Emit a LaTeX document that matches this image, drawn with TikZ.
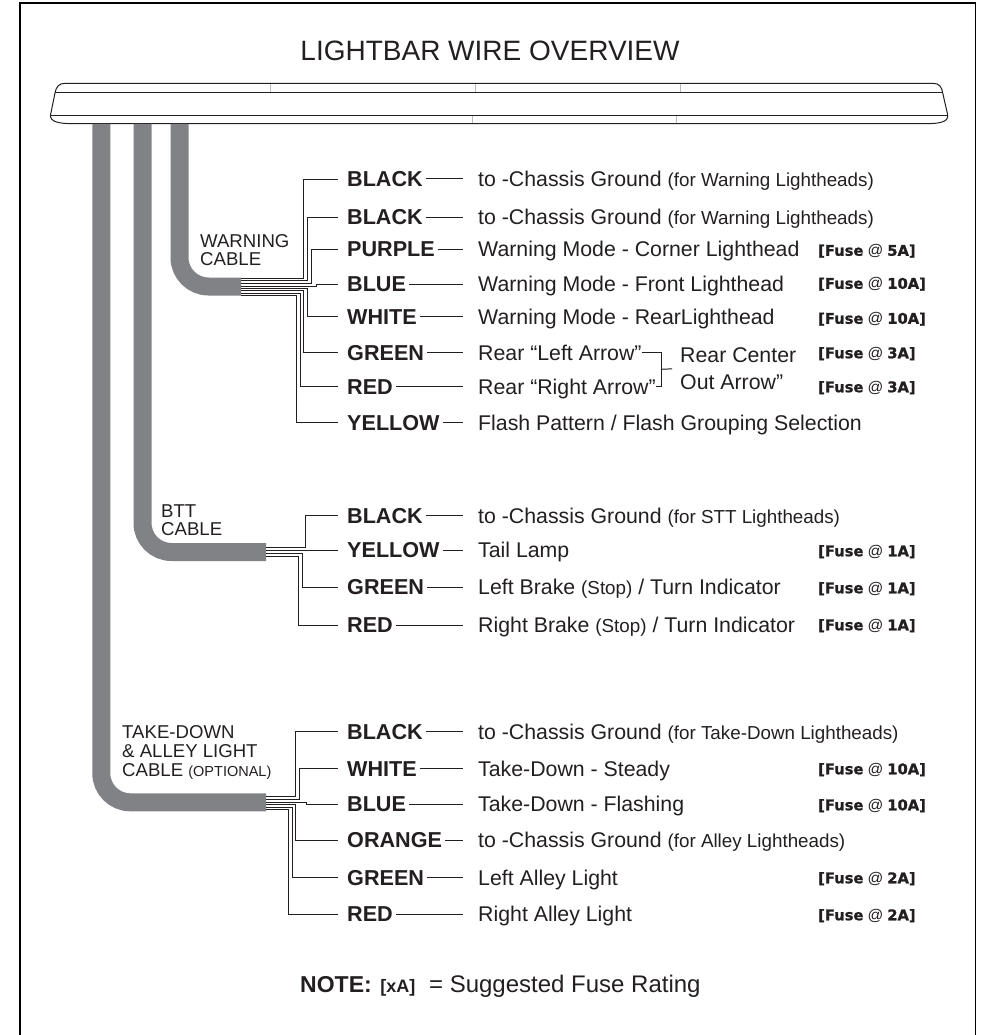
\documentclass[tikz,border=0pt]{standalone}
\usepackage{fontspec}
\setmainfont{Liberation Sans}
\newfontfamily\fusefont{DejaVu Sans}[BoldFeatures={FakeBold=1.2}]
\usetikzlibrary{calc}

\definecolor{ink}{HTML}{231F20}
\definecolor{sheath}{HTML}{808285}

\newcommand{\paren}[1]{{\fontsize{18.8}{18}\selectfont #1}}
\newcommand{\fuse}[1]{{\fusefont\bfseries [Fuse} {\fontsize{15.5}{15}\selectfont @} {\fusefont\bfseries #1]}}

\tikzset{
	outline/.style={draw=ink, line width=1pt},
	seam/.style={draw=ink!30, line width=0.5pt},
	cable/.style={draw=sheath},
	wire/.style={draw=ink, line width=0.9pt, shorten >=6pt},
	link/.style={draw=ink, line width=1pt},
	color name/.style={anchor=west, inner ysep=0pt, inner xsep=3pt, text=ink, text height=15pt, text depth=0pt, font=\fontsize{21.6}{21}\selectfont\bfseries},
	job/.style={anchor=west, inner sep=0pt, text=ink, text height=15pt, text depth=0pt, font=\fontsize{21.3}{21}\selectfont},
	rating/.style={anchor=west, inner sep=0pt, text=ink, text height=10.5pt, text depth=0pt, font=\fontsize{14.7}{15}\selectfont},
	cable name/.style={anchor=north west, align=left, inner sep=0pt, text=ink, font=\fontsize{18.6}{17.8}\selectfont}
}

\begin{document}
\begin{tikzpicture}[x=1pt,y=-1pt]
	\pgfmathsetmacro{\cablew}{18}		%width of cable
	\pgfmathsetmacro{\bend}{29}			%bend radius of cable
	\pgfmathsetmacro{\namex}{344}		%left of color names
	\pgfmathsetmacro{\jobx}{478}		%left of wire duties
	\pgfmathsetmacro{\fusex}{818}		%left of fuse ratings

	\useasboundingbox (0,0) rectangle (980,1035);

	%sheet
	\draw[line width=1.4pt, draw=black] (20,1035) |- (975.5,3) -- (975.5,1035);
	\node[inner sep=0pt, text=ink, font=\fontsize{28}{28}\selectfont] (title) at (490,51) {LIGHTBAR WIRE OVERVIEW};

	%lightbar
	\draw[seam] (270,83.3) -- (270,93);
	\draw[seam] (475,83.3) -- (475,93);
	\draw[seam] (680,83.3) -- (680,93);
	\draw[seam] (472.7,116) -- (472.7,123.7);
	\draw[seam] (676.7,116) -- (676.7,123.7);
	\draw[outline] (65,83.3) -- (933,83.3) .. controls (939,83.3) and (942,87) .. (942.7,93) -- (947.7,115) .. controls (948.5,122) and (940,123.7) .. (925,123.7) -- (74,123.7) .. controls (59,123.7) and (50,122) .. (50.5,115) -- (55,93) .. controls (56,87) and (59,83.3) .. (65,83.3) -- cycle;
	\draw[outline] (55,93) -- (942.7,93);
	\draw[outline] (50.5,116) -- (947.7,116);

	%cables
	\coordinate (wend) at (241,286.5);
	\coordinate (bend) at (266,552);
	\coordinate (tend) at (266,802.3);
	\draw[cable, line width=\cablew, rounded corners=\bend pt] (179.5,124) |- (wend);
	\draw[cable, line width=\cablew, rounded corners=\bend pt] (142.5,124) |- (bend);
	\draw[cable, line width=\cablew, rounded corners=\bend pt] (101.3,124) |- (tend);

	\node[cable name] (wcable) at (200,234.5) {WARNING\\CABLE};
	\node[cable name] (bcable) at (161,504.5) {BTT\\CABLE};
	\node[cable name, font=\fontsize{18.6}{18.7}\selectfont] (tcable) at (122,725.5) {TAKE-DOWN\\\& ALLEY LIGHT\\CABLE {\fontsize{14.5}{14.5}\selectfont (OPTIONAL)}};

	%warning cable
	\node[color name] (wblk) at (\namex,179) {BLACK};
	\node[color name] (wblq) at (\namex,217.3) {BLACK};
	\node[color name] (wpur) at (\namex,249.3) {PURPLE};
	\node[color name] (wblu) at (\namex,284) {BLUE};
	\node[color name] (wwht) at (\namex,316.7) {WHITE};
	\node[color name] (wgrn) at (\namex,352.7) {GREEN};
	\node[color name] (wred) at (\namex,386.7) {RED};
	\node[color name] (wyel) at (\namex,422.7) {YELLOW};

	\node[job] (wblkj) at (\jobx,179) {to -Chassis Ground \paren{(for Warning Lightheads)}};
	\node[job] (wblqj) at (\jobx,217.3) {to -Chassis Ground \paren{(for Warning Lightheads)}};
	\node[job] (wpurj) at (\jobx,249.3) {Warning Mode - Corner Lighthead};
	\node[job] (wbluj) at (\jobx,284) {Warning Mode - Front Lighthead};
	\node[job] (wwhtj) at (\jobx,316.7) {Warning Mode - RearLighthead};
	\node[job] (wgrnj) at (\jobx,352.7) {Rear “Left Arrow”};
	\node[job] (wredj) at (\jobx,386.7) {Rear “Right Arrow”};
	\node[job] (wyelj) at (\jobx,422.7) {Flash Pattern / Flash Grouping Selection};
	\node[anchor=west, inner sep=0pt, text=ink, align=left, font=\fontsize{21.3}{27}\selectfont] (wcnt) at (680,368.5) {Rear Center\\Out Arrow”};

	\node[rating] (wpurf) at (\fusex,250.5) {\fuse{5A}};
	\node[rating] (wbluf) at (\fusex,283.5) {\fuse{10A}};
	\node[rating] (wwhtf) at (\fusex,318.5) {\fuse{10A}};
	\node[rating] (wgrnf) at (\fusex,353) {\fuse{3A}};
	\node[rating] (wredf) at (\fusex,387) {\fuse{3A}};

	\draw[wire] ($(wend)+(0,-8.2)$) -| (303.3,179) -- (wblk.west);
	\draw[wire] ($(wend)+(0,-5.8)$) -| (307.3,217.3) -- (wblq.west);
	\draw[wire] ($(wend)+(0,-3.5)$) -| (311.3,249.3) -- (wpur.west);
	\draw[wire] ($(wend)+(0,-0.5)$) -| (316.7,284) -- (wblu.west);
	\draw[wire] ($(wend)+(0,1.8)$) -| (307.3,316.7) -- (wwht.west);
	\draw[wire] ($(wend)+(0,4)$) -| (303.3,352.7) -- (wgrn.west);
	\draw[wire] ($(wend)+(0,6.5)$) -| (300.3,386.7) -- (wred.west);
	\draw[wire] ($(wend)+(0,8.5)$) -| (296.7,422.7) -- (wyel.west);

	\draw[link, shorten >=15pt] (wblk.east) -- (wblkj.west);
	\draw[link, shorten >=15pt] (wblq.east) -- (wblqj.west);
	\draw[link, shorten >=15pt] (wpur.east) -- (wpurj.west);
	\draw[link, shorten >=15pt] (wblu.east) -- (wbluj.west);
	\draw[link, shorten >=15pt] (wwht.east) -- (wwhtj.west);
	\draw[link, shorten >=15pt] (wgrn.east) -- (wgrnj.west);
	\draw[link, shorten >=15pt] (wred.east) -- (wredj.west);
	\draw[link, shorten >=15pt] (wyel.east) -- (wyelj.west);

	%rear center bracket
	\coordinate (brk) at (661,369.3);
	\draw[link] (wgrnj.east) -| (brk) |- (wredj.east);
	\draw[link, shorten >=8pt] (brk) -- (wcnt.west);

	%btt cable
	\node[color name] (bblk) at (\namex,515.7) {BLACK};
	\node[color name] (byel) at (\namex,550.3) {YELLOW};
	\node[color name] (bgrn) at (\namex,587.3) {GREEN};
	\node[color name] (bred) at (\namex,625) {RED};

	\node[job] (bblkj) at (\jobx,515.7) {to -Chassis Ground \paren{(for STT Lightheads)}};
	\node[job] (byelj) at (\jobx,550.3) {Tail Lamp};
	\node[job] (bgrnj) at (\jobx,587.3) {Left Brake \paren{(Stop)} / Turn Indicator};
	\node[job] (bredj) at (\jobx,625) {Right Brake \paren{(Stop)} / Turn Indicator};

	\node[rating] (byelf) at (\fusex,551) {\fuse{1A}};
	\node[rating] (bgrnf) at (\fusex,588) {\fuse{1A}};
	\node[rating] (bredf) at (\fusex,625) {\fuse{1A}};

	\draw[wire] ($(bend)+(0,-4.7)$) -| (305.7,515.7) -- (bblk.west);
	\draw[wire] ($(bend)+(0,-1.7)$) -- (byel.west);
	\draw[wire] ($(bend)+(0,1)$) -| (302.3,587.3) -- (bgrn.west);
	\draw[wire] ($(bend)+(0,4)$) -| (298.7,625) -- (bred.west);

	\draw[link, shorten >=15pt] (bblk.east) -- (bblkj.west);
	\draw[link, shorten >=15pt] (byel.east) -- (byelj.west);
	\draw[link, shorten >=15pt] (bgrn.east) -- (bgrnj.west);
	\draw[link, shorten >=15pt] (bred.east) -- (bredj.west);

	%take-down cable
	\node[color name] (tblk) at (\namex,731.7) {BLACK};
	\node[color name] (twht) at (\namex,768.7) {WHITE};
	\node[color name] (tblu) at (\namex,804.3) {BLUE};
	\node[color name] (torg) at (\namex,840) {ORANGE};
	\node[color name] (tgrn) at (\namex,877.7) {GREEN};
	\node[color name] (tred) at (\namex,914) {RED};

	\node[job] (tblkj) at (\jobx,731.7) {to -Chassis Ground \paren{(for Take-Down Lightheads)}};
	\node[job] (twhtj) at (\jobx,768.7) {Take-Down - Steady};
	\node[job] (tbluj) at (\jobx,804.3) {Take-Down - Flashing};
	\node[job] (torgj) at (\jobx,840) {to -Chassis Ground \paren{(for Alley Lightheads)}};
	\node[job] (tgrnj) at (\jobx,877.7) {Left Alley Light};
	\node[job] (tredj) at (\jobx,914) {Right Alley Light};

	\node[rating] (twhtf) at (\fusex,769) {\fuse{10A}};
	\node[rating] (tbluf) at (\fusex,805) {\fuse{10A}};
	\node[rating] (tgrnf) at (\fusex,878) {\fuse{2A}};
	\node[rating] (tredf) at (\fusex,915) {\fuse{2A}};

	\draw[wire] ($(tend)+(0,-5.6)$) -| (295.3,731.7) -- (tblk.west);
	\draw[wire] ($(tend)+(0,-3)$) -| (299,768.7) -- (twht.west);
	\draw[wire] ($(tend)+(0,-0.3)$) -| (306,804.3) -- (tblu.west);
	\draw[wire] ($(tend)+(0,2.4)$) -| (295.3,840) -- (torg.west);
	\draw[wire] ($(tend)+(0,5)$) -| (292.3,877.7) -- (tgrn.west);
	\draw[wire] ($(tend)+(0,7)$) -| (288,914) -- (tred.west);

	\draw[link, shorten >=15pt] (tblk.east) -- (tblkj.west);
	\draw[link, shorten >=15pt] (twht.east) -- (twhtj.west);
	\draw[link, shorten >=15pt] (tblu.east) -- (tbluj.west);
	\draw[link, shorten >=15pt] (torg.east) -- (torgj.west);
	\draw[link, shorten >=15pt] (tgrn.east) -- (tgrnj.west);
	\draw[link, shorten >=15pt] (tred.east) -- (tredj.west);

	%note
	\node[anchor=west, inner sep=0pt, text=ink, font=\fontsize{24}{24}\selectfont] (note) at (300,986.7) {{\fontsize{23}{24}\selectfont\bfseries NOTE:}\hspace{2pt} {\fontsize{18}{18}\selectfont\bfseries [xA]}\hspace{7pt} = Suggested Fuse Rating};

\end{tikzpicture}
\end{document}
